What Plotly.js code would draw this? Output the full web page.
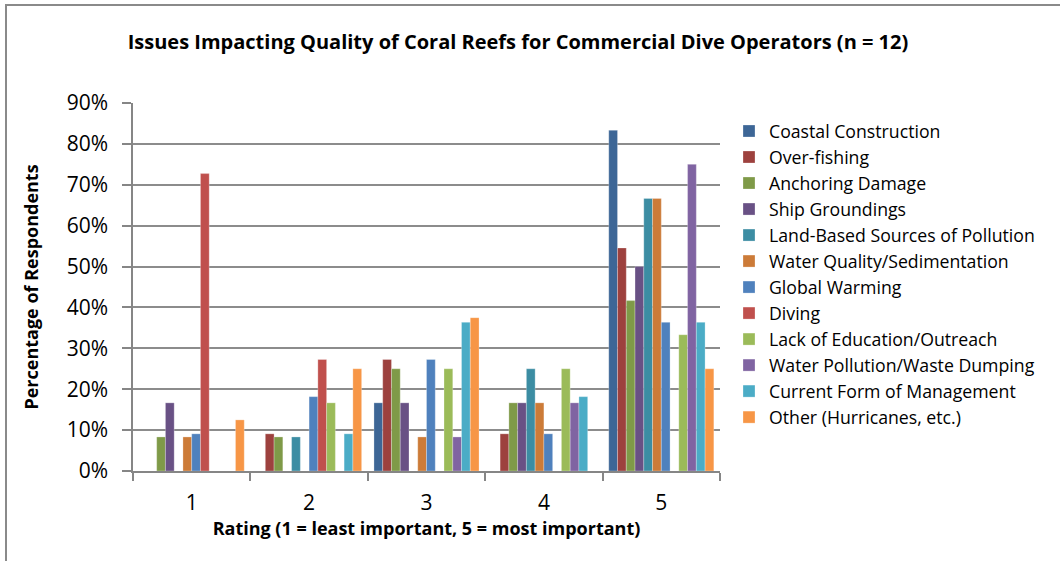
<!DOCTYPE html>
<html>
<head>
<meta charset="utf-8">
<script src="https://cdn.plot.ly/plotly-3.0.1.min.js"></script>
<style>
  html, body { margin: 0; padding: 0; background: #fff; overflow: hidden; }
  #wrap { position: relative; width: 1060px; height: 561px; }
  #chart { width: 1060px; height: 561px; }
  #frame { position: absolute; left: 5px; top: 4px; width: 1100px; height: 600px;
           border-left: 2px solid #8a8a8a; border-top: 2px solid #8a8a8a; pointer-events: none; }
</style>
</head>
<body>
<div id="wrap">
  <div id="chart"></div>
  <div id="frame"></div>
</div>
<script>
// Ratings (categories)
const ratings = ['1', '2', '3', '4', '5'];

// Series names
const seriesNames = [
  'Coastal Construction',
  'Over-fishing',
  'Anchoring Damage',
  'Ship Groundings',
  'Land-Based Sources of Pollution',
  'Water Quality/Sedimentation',
  'Global Warming',
  'Diving',
  'Lack of Education/Outreach',
  'Water Pollution/Waste Dumping',
  'Current Form of Management',
  'Other (Hurricanes, etc.)'
];

// Percent of respondents per rating (fractions)
const coastalConstruction   = [0,      0,      0.1667, 0,      0.8333];
const overFishing           = [0,      0.0909, 0.2727, 0.0909, 0.5455];
const anchoringDamage       = [0.0833, 0.0833, 0.25,   0.1667, 0.4167];
const shipGroundings        = [0.1667, 0,      0.1667, 0.1667, 0.50];
const landBasedPollution    = [0,      0.0833, 0,      0.25,   0.6667];
const waterQuality          = [0.0833, 0,      0.0833, 0.1667, 0.6667];
const globalWarming         = [0.0909, 0.1818, 0.2727, 0.0909, 0.3636];
const diving                = [0.7273, 0.2727, 0,      0,      0];
const lackOfEducation       = [0,      0.1667, 0.25,   0.25,   0.3333];
const waterPollution        = [0,      0,      0.0833, 0.1667, 0.75];
const currentManagement     = [0,      0.0909, 0.3636, 0.1818, 0.3636];
const otherHurricanes       = [0.125,  0.25,   0.375,  0,      0.25];

const seriesValues = [
  coastalConstruction, overFishing, anchoringDamage, shipGroundings,
  landBasedPollution, waterQuality, globalWarming, diving,
  lackOfEducation, waterPollution, currentManagement, otherHurricanes
];

const colors = [
  '#3D6696', '#9D413E', '#7F9A48', '#695185', '#3C8DA3', '#CC7B38',
  '#4F81BD', '#C0504D', '#9BBB59', '#8064A2', '#4BACC6', '#F79646'
];

const FONT = 'Open Sans, Noto Sans, sans-serif';

const traces = seriesNames.map((name, i) => ({
  type: 'bar',
  name: name,
  x: ratings,
  y: seriesValues[i],
  marker: { color: colors[i], line: { color: 'rgba(255,255,255,0.45)', width: 0.6 } },
  hovertemplate: '%{y:.1%}<extra>' + name + '</extra>'
}));

const layout = {
  width: 1060,
  height: 561,
  margin: { l: 133, r: 340, t: 103, b: 90, pad: 0 },
  paper_bgcolor: '#ffffff',
  plot_bgcolor: '#ffffff',
  font: { family: FONT, color: '#000000' },
  barmode: 'group',
  bargap: 0.105,
  bargroupgap: 0,
  showlegend: true,
  title: {
    text: 'Issues Impacting Quality of Coral Reefs for Commercial Dive Operators (n = 12)',
    font: { family: FONT, size: 20, color: '#000', weight: 'bold' },
    x: 518 / 1060, xref: 'container', xanchor: 'center',
    y: 1 - 42 / 561, yanchor: 'middle', yref: 'container'
  },
  xaxis: {
    type: 'category',
    tickson: 'boundaries',
    ticks: 'outside',
    ticklen: 8,
    tickwidth: 1.5,
    tickcolor: '#868686',
    showline: true,
    linecolor: '#868686',
    linewidth: 1.5,
    showgrid: false,
    tickfont: { family: FONT, size: 21, color: '#000' },
    ticklabelstandoff: 12,
    automargin: false,
    title: {
      text: 'Rating (1 = least important, 5 = most important)',
      font: { family: FONT, size: 18, color: '#000', weight: 'bold' },
      standoff: 5
    }
  },
  yaxis: {
    range: [0, 0.9],
    dtick: 0.1,
    tick0: 0,
    tickformat: '.0%',
    ticks: 'outside',
    ticklen: 9,
    tickwidth: 1.5,
    tickcolor: '#868686',
    showline: true,
    linecolor: '#868686',
    linewidth: 1.5,
    showgrid: true,
    gridcolor: '#8c8c8c',
    gridwidth: 1.5,
    zeroline: false,
    tickfont: { family: FONT, size: 21, color: '#000' },
    ticklabelstandoff: 10,
    automargin: false,
    title: {
      text: 'Percentage of Respondents',
      font: { family: FONT, size: 18, color: '#000', weight: 'bold' },
      standoff: 23
    }
  },
  legend: {
    x: (729 - 133) / 587, xanchor: 'left',
    y: 1 - 10 / 368, yanchor: 'top',
    font: { family: FONT, size: 17.7, color: '#000' },
    itemwidth: 30,
    bgcolor: 'rgba(0,0,0,0)',
    borderwidth: 0
  }
};

Plotly.newPlot('chart', traces, layout, { displayModeBar: false, responsive: false });
</script>
</body>
</html>
